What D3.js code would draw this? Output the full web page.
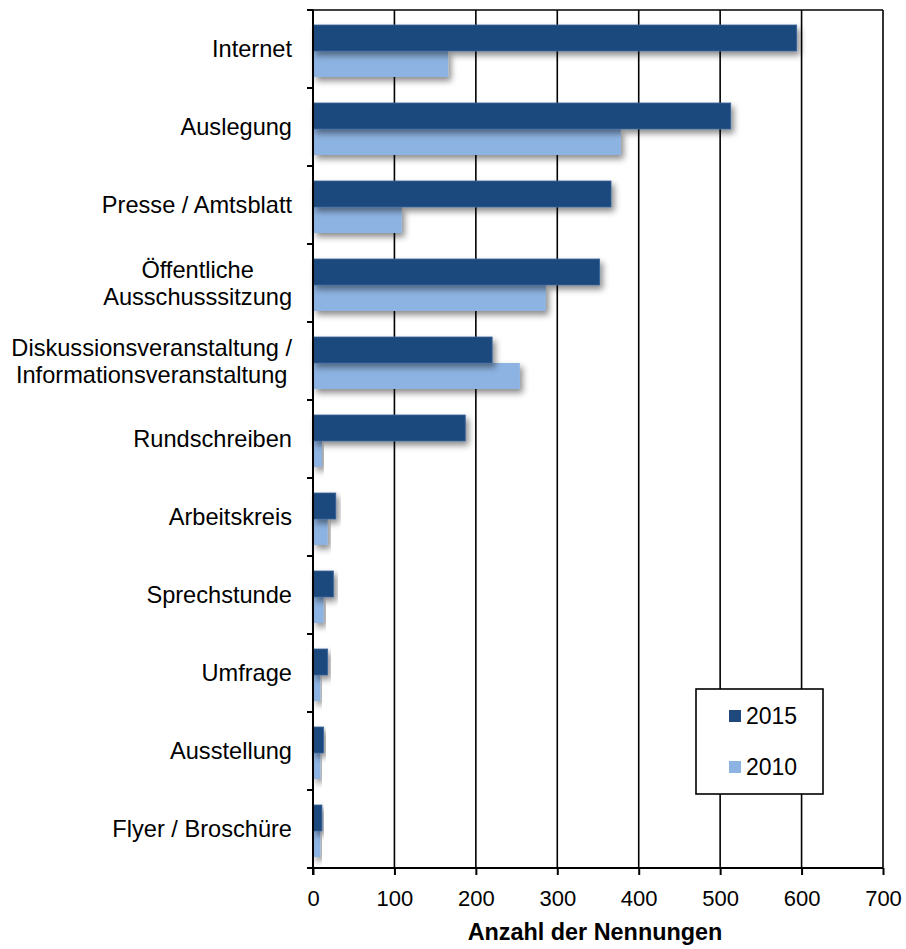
<!DOCTYPE html>
<meta charset="utf-8">
<script src="https://d3js.org/d3.v7.min.js"></script>
<style type="text/css">
body { margin: 0; background: #fff; }
text { font-family: "Liberation Sans", Arial, sans-serif; fill: #000; }
.cat_label { font-size: 23.6px; }
.axis text { font-size: 22px; }
.axis_title { font-size: 23.4px; font-weight: bold; }
.legend_label { font-size: 23px; }
</style>
<body>
<div id="container"></div>
<script>
//-----------------------------DATA-----------------------------//
const categories = [
    ["Internet"],
    ["Auslegung"],
    ["Presse / Amtsblatt"],
    ["Öffentliche", "Ausschusssitzung"],
    ["Diskussionsveranstaltung /", "Informationsveranstaltung"],
    ["Rundschreiben"],
    ["Arbeitskreis"],
    ["Sprechstunde"],
    ["Umfrage"],
    ["Ausstellung"],
    ["Flyer / Broschüre"]
];
const seriesNames = ["2015", "2010"];
const values2015 = [594, 513, 366, 352, 220, 187, 28, 25, 18, 13, 11];
const values2010 = [166, 378, 109, 286, 254, 11, 18, 13, 9, 9, 9];
const xTicks = [0, 100, 200, 300, 400, 500, 600, 700];
const colors = ["#1f497d", "#8db3e2"];

//-----------------------------SVG------------------------------//
const width = 906;
const height = 949;
const plot = {left: 313, right: 883, top: 10, bottom: 868};

const svg = d3.select("#container").append("svg")
    .attr("width", width)
    .attr("height", height);

const defs = svg.append("defs");
const shadow = defs.append("filter")
    .attr("id", "shadow")
    .attr("x", "-10%").attr("y", "-30%")
    .attr("width", "130%").attr("height", "180%");
shadow.append("feDropShadow")
    .attr("dx", 3).attr("dy", 4)
    .attr("stdDeviation", 3)
    .attr("flood-color", "#000")
    .attr("flood-opacity", 0.45);

//----------------------------SCALES----------------------------//
const ids = categories.map((c, i) => i);
const xScale = d3.scaleLinear().domain([0, 700]).range([plot.left, plot.right]);
const yScale = d3.scaleBand().domain(ids).range([plot.top, plot.bottom])
    .paddingInner(1 / 3).paddingOuter(1 / 6).align(15 / 26);
const yStep = d3.scaleBand().domain(ids).range([plot.top, plot.bottom]);
const ySub = d3.scaleBand().domain(seriesNames).range([0, yScale.bandwidth()]);

//-----------------------------GRID-----------------------------//
svg.append("g")
    .selectAll("line")
    .data(xTicks.slice(1))
    .enter().append("line")
    .attr("x1", d => xScale(d)).attr("x2", d => xScale(d))
    .attr("y1", plot.top).attr("y2", plot.bottom)
    .attr("stroke", "#000").attr("stroke-width", 1.6);

svg.append("line")
    .attr("x1", plot.left).attr("x2", plot.right)
    .attr("y1", plot.top).attr("y2", plot.top)
    .attr("stroke", "#000").attr("stroke-width", 1.6);

//----------------------------BARS------------------------------//
const rows = ids.map(i => ({i: i, vals: [values2015[i], values2010[i]]}));

const groups = svg.append("g")
    .selectAll("g")
    .data(rows)
    .enter().append("g")
    .attr("transform", d => "translate(0," + yScale(d.i) + ")");

groups.selectAll("rect")
    .data(d => d.vals.map((v, k) => ({k: k, v: v})).reverse())
    .enter().append("rect")
    .attr("x", xScale(0))
    .attr("y", d => ySub(seriesNames[d.k]))
    .attr("width", d => xScale(d.v) - xScale(0))
    .attr("height", ySub.bandwidth())
    .attr("fill", d => colors[d.k])
    .attr("stroke", d => d.k == 0 ? "#3a6399" : "none")
    .attr("stroke-width", 0.8)
    .attr("filter", "url(#shadow)");

//-----------------------------AXES-----------------------------//
const xaxis = d3.axisBottom(xScale)
    .tickValues(xTicks)
    .tickSize(7)
    .tickPadding(15);

svg.append("g")
    .attr("class", "axis")
    .attr("transform", "translate(0," + plot.bottom + ")")
    .call(xaxis)
    .call(g => g.selectAll("line,path").attr("stroke", "#000").attr("stroke-width", 2))
    .call(g => g.select(".domain").attr("d", "M" + plot.left + ",0H" + plot.right));

// left axis line with ticks at category borders
const leftAxis = svg.append("g");
leftAxis.append("line")
    .attr("x1", plot.left).attr("x2", plot.left)
    .attr("y1", plot.top).attr("y2", plot.bottom + 7)
    .attr("stroke", "#000").attr("stroke-width", 2);
leftAxis.selectAll(".tick")
    .data(ids.concat([ids.length]))
    .enter().append("line")
    .attr("x1", plot.left - 6).attr("x2", plot.left)
    .attr("y1", d => plot.top + d * yStep.step())
    .attr("y2", d => plot.top + d * yStep.step())
    .attr("stroke", "#000").attr("stroke-width", 2);

svg.append("text")
    .attr("class", "axis_title")
    .attr("x", 595)
    .attr("y", 940)
    .attr("text-anchor", "middle")
    .text("Anzahl der Nennungen");

//---------------------------LABELS-----------------------------//
const labelRight = 292;
const lineH = 27;
const labels = svg.append("g")
    .selectAll("text")
    .data(rows)
    .enter().append("text")
    .attr("class", "cat_label")
    .attr("text-anchor", "middle");

labels.each(function(d) {
    const t = d3.select(this);
    const lines = categories[d.i];
    const cy = yStep(d.i) + yStep.bandwidth() / 2;
    const spans = lines.map((s, k) => t.append("tspan")
        .attr("y", cy + (k - (lines.length - 1) / 2) * lineH)
        .attr("dy", "0.35em")
        .text(s));
    const w = d3.max(spans, s => s.node().getComputedTextLength());
    spans.forEach(s => s.attr("x", labelRight - w / 2));
});

//---------------------------LEGEND-----------------------------//
const legend = svg.append("g");
legend.append("rect")
    .attr("x", 696).attr("y", 689)
    .attr("width", 127).attr("height", 105)
    .attr("fill", "#fff")
    .attr("stroke", "#000").attr("stroke-width", 1.6);

const items = legend.selectAll(".item")
    .data(seriesNames)
    .enter().append("g")
    .attr("transform", (d, k) => "translate(729," + (716 + k * 51) + ")");
items.append("rect")
    .attr("x", 0).attr("y", -6)
    .attr("width", 12).attr("height", 12)
    .attr("fill", (d, k) => colors[k]);
items.append("text")
    .attr("class", "legend_label")
    .attr("x", 17).attr("dy", "0.36em")
    .text(d => d);
</script>
</body>
